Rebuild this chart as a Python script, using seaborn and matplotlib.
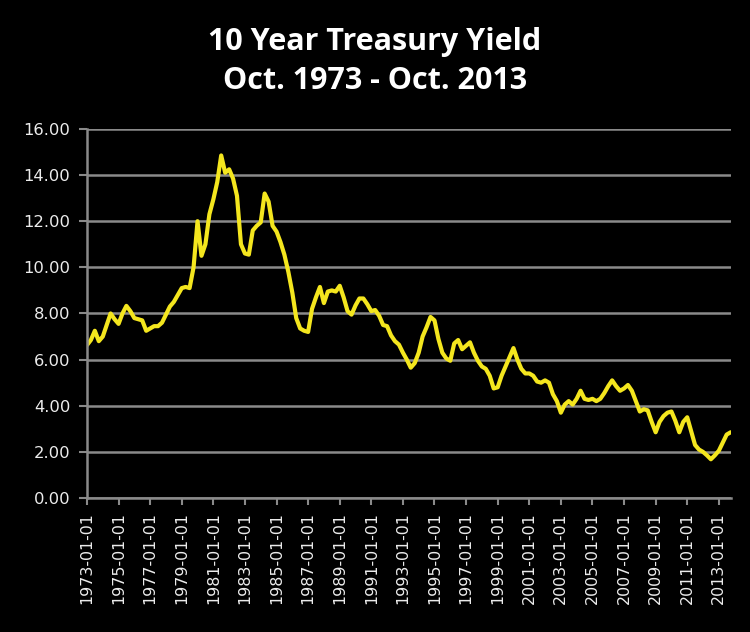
import pandas as pd
import matplotlib.pyplot as plt
import seaborn as sns

# Chart text
title_lines = ['10 Year Treasury Yield', 'Oct. 1973 - Oct. 2013']

# Quarterly 10 year yield (%), Jan 1973 .. Oct 2013
yield_pct = [
    6.63, 6.85, 7.25, 6.80,     # 1973
    7.00, 7.50, 8.00, 7.75,     # 1974
    7.55, 8.00, 8.33, 8.10,     # 1975
    7.80, 7.75, 7.70, 7.25,     # 1976
    7.35, 7.45, 7.45, 7.60,     # 1977
    7.95, 8.30, 8.50, 8.80,     # 1978
    9.10, 9.15, 9.10, 10.00,    # 1979
    12.00, 10.50, 11.00, 12.30, # 1980
    12.95, 13.70, 14.85, 14.10, # 1981
    14.25, 13.85, 13.10, 11.00, # 1982
    10.60, 10.55, 11.60, 11.80, # 1983
    11.95, 13.20, 12.85, 11.80, # 1984
    11.55, 11.10, 10.55, 9.80,  # 1985
    8.90, 7.80, 7.35, 7.25,     # 1986
    7.20, 8.20, 8.70, 9.15,     # 1987
    8.45, 8.95, 9.00, 8.95,     # 1988
    9.20, 8.70, 8.10, 7.95,     # 1989
    8.35, 8.65, 8.65, 8.40,     # 1990
    8.10, 8.15, 7.90, 7.50,     # 1991
    7.45, 7.05, 6.80, 6.65,     # 1992
    6.30, 6.00, 5.65, 5.85,     # 1993
    6.30, 7.00, 7.40, 7.85,     # 1994
    7.70, 6.90, 6.30, 6.05,     # 1995
    5.95, 6.70, 6.85, 6.45,     # 1996
    6.60, 6.75, 6.30, 5.95,     # 1997
    5.70, 5.60, 5.30, 4.75,     # 1998
    4.80, 5.30, 5.70, 6.10,     # 1999
    6.50, 6.00, 5.60, 5.40,     # 2000
    5.40, 5.30, 5.05, 5.00,     # 2001
    5.10, 5.00, 4.50, 4.20,     # 2002
    3.70, 4.05, 4.20, 4.05,     # 2003
    4.30, 4.65, 4.30, 4.25,     # 2004
    4.30, 4.20, 4.30, 4.55,     # 2005
    4.85, 5.10, 4.85, 4.65,     # 2006
    4.75, 4.90, 4.65, 4.20,     # 2007
    3.75, 3.85, 3.80, 3.30,     # 2008
    2.85, 3.30, 3.55, 3.70,     # 2009
    3.75, 3.35, 2.85, 3.30,     # 2010
    3.50, 2.90, 2.30, 2.10,     # 2011
    2.00, 1.85, 1.68, 1.85,     # 2012
    2.05, 2.40, 2.75, 2.85,     # 2013
]

# Axis ticks
tick_years = list(range(1973, 2014, 2))
y_ticks = [0, 2, 4, 6, 8, 10, 12, 14, 16]

quarters = pd.date_range('1973-01-01', periods=len(yield_pct), freq='QS')
df = pd.DataFrame({'Date': quarters, 'Yield': yield_pct})

sns.set_theme(style='dark')
grid_col = '#8a8a8a'
text_col = '#ececec'

fig = plt.figure(figsize=(7.5, 6.32), dpi=100, facecolor='black')
ax = fig.add_axes([0.116, 0.212, 0.859, 0.584])
ax.set_facecolor('black')

sns.lineplot(data=df, x='Date', y='Yield', ax=ax, color='#f4e61e', linewidth=3.0)

# Y axis
ax.set_ylim(0, 16)
ax.set_yticks(y_ticks)
ax.set_yticklabels([f'{v:.2f}' for v in y_ticks])
ax.yaxis.grid(True, color=grid_col, linewidth=1.8)
ax.xaxis.grid(False)

# X axis: a label every two years
xticks = pd.to_datetime([f'{y}-01-01' for y in tick_years])
ax.set_xticks(xticks)
ax.set_xticklabels([d.strftime('%Y-%m-%d') for d in xticks], rotation=90)
ax.set_xlim(pd.Timestamp('1973-01-01'), pd.Timestamp('2013-10-15'))

ax.set_xlabel('')
ax.set_ylabel('')
for side in ['top', 'right']:
    ax.spines[side].set_visible(False)
for side in ['left', 'bottom']:
    ax.spines[side].set_color(grid_col)
    ax.spines[side].set_linewidth(1.8)

ax.tick_params(axis='y', length=6, width=1.5, color=grid_col, labelcolor=text_col,
               labelsize=11.8, pad=6, left=True)
ax.tick_params(axis='x', length=5, width=1.5, color=grid_col, labelcolor=text_col,
               labelsize=11.4, pad=5, bottom=True)
for lab in ax.get_xticklabels() + ax.get_yticklabels():
    lab.set_family('DejaVu Sans')

# Two-line title
fig.text(0.5, 0.934, title_lines[0], ha='center', va='center', fontsize=22,
         color='white', family='Open Sans', weight='bold')
fig.text(0.5, 0.872, title_lines[1], ha='center', va='center', fontsize=22,
         color='white', family='Open Sans', weight='bold')

plt.savefig('out.png', dpi=100, facecolor='black')
